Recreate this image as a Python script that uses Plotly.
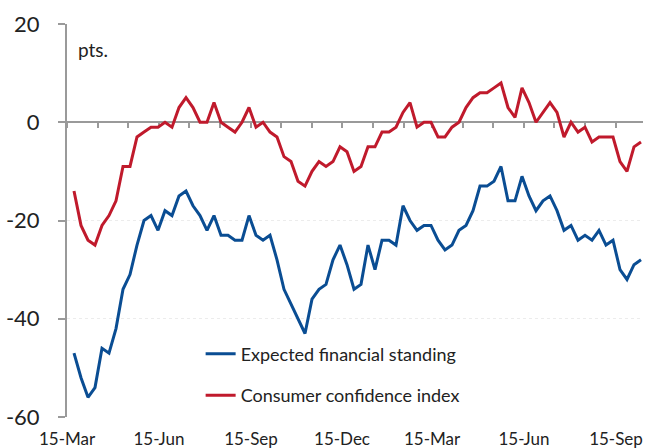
import pandas as pd
import plotly.graph_objects as go

# Weekly survey readings, first week ending 22 March 2020
start_date = "2020-03-22"
n_weeks = 82

expected_financial_standing = [
    -47, -52, -56, -54, -46, -47, -42, -34, -31, -25,
    -20, -19, -22, -18, -19, -15, -14, -17, -19, -22,
    -19, -23, -23, -24, -24, -19, -23, -24, -23, -28,
    -34, -37, -40, -43, -36, -34, -33, -28, -25, -29,
    -34, -33, -25, -30, -24, -24, -25, -17, -20, -22,
    -21, -21, -24, -26, -25, -22, -21, -18, -13, -13,
    -12, -9, -16, -16, -11, -15, -18, -16, -15, -18,
    -22, -21, -24, -23, -24, -22, -25, -24, -30, -32,
    -29, -28,
]

consumer_confidence_index = [
    -14, -21, -24, -25, -21, -19, -16, -9, -9, -3,
    -2, -1, -1, 0, -1, 3, 5, 3, 0, 0,
    4, 0, -1, -2, 0, 3, -1, 0, -2, -3,
    -7, -8, -12, -13, -10, -8, -9, -8, -5, -6,
    -10, -9, -5, -5, -2, -2, -1, 2, 4, -1,
    0, 0, -3, -3, -1, 0, 3, 5, 6, 6,
    7, 8, 3, 1, 7, 4, 0, 2, 4, 2,
    -3, 0, -2, -1, -4, -3, -3, -3, -8, -10,
    -5, -4,
]

y_ticks = [20, 0, -20, -40, -60]
y_tick_text = ["20", "0", "-20", "-40", "-60"]
x_range = ["2020-03-15", "2021-10-12"]
month_ticks = pd.date_range("2020-03-01", "2021-10-01", freq="MS") + pd.Timedelta(days=14)
label_ticks = month_ticks[::3]
label_text = [d.strftime("%d-%b") for d in label_ticks]

dates = pd.date_range(start_date, periods=n_weeks, freq="7D")

BLUE = "#0a4d93"
RED = "#c01a2c"
AXIS = "#9a9a9a"
TEXT = "#222222"
FONT = "Lato"

fig = go.Figure()
fig.add_trace(go.Scatter(
    x=dates, y=expected_financial_standing, mode="lines",
    name="Expected financial standing", legendgroup="a",
    line=dict(color=BLUE, width=3), xaxis="x",
))
fig.add_trace(go.Scatter(
    x=dates, y=consumer_confidence_index, mode="lines",
    name="Consumer confidence index", legendgroup="b",
    line=dict(color=RED, width=3), xaxis="x2",
))

fig.update_layout(
    width=645, height=448,
    margin=dict(l=67, r=2, t=24, b=31, autoexpand=False),
    paper_bgcolor="white", plot_bgcolor="white",
    font=dict(family=FONT, color=TEXT),
    showlegend=True,
    legend=dict(
        x=0.232, y=0.207, xanchor="left", yanchor="top",
        font=dict(size=18, color=TEXT, family=FONT),
        bgcolor="rgba(0,0,0,0)", traceorder="grouped", tracegroupgap=15,
    ),
    xaxis=dict(
        type="date", range=x_range, automargin=False,
        tickvals=list(label_ticks), ticktext=label_text,
        showline=False, ticks="", showgrid=False, zeroline=False,
        tickfont=dict(size=17, color=TEXT, family=FONT),
        ticklabelstandoff=10,
    ),
    xaxis2=dict(
        type="date", range=x_range, overlaying="x", anchor="free",
        position=0.75, side="bottom", automargin=False,
        tickvals=list(month_ticks), showticklabels=False,
        ticks="outside", ticklen=5, tickwidth=2, tickcolor=AXIS,
        showline=True, linecolor=AXIS, linewidth=2,
        showgrid=False, zeroline=False, layer="below traces",
    ),
    yaxis=dict(
        range=[-60, 20], tickvals=y_ticks, ticktext=y_tick_text,
        automargin=False,
        showline=True, linecolor=AXIS, linewidth=2,
        ticks="outside", ticklen=7, tickwidth=2, tickcolor=AXIS,
        showgrid=True, gridcolor="#ececec", griddash="dot", gridwidth=1,
        zeroline=False,
        tickfont=dict(size=22, color=TEXT, family=FONT),
        ticklabelstandoff=14,
    ),
    annotations=[dict(
        text="pts.", xref="paper", yref="paper", x=0.015, y=0.935,
        xanchor="left", yanchor="middle", showarrow=False,
        font=dict(size=19, color=TEXT, family=FONT),
    )],
)

fig.write_html("out.html")
